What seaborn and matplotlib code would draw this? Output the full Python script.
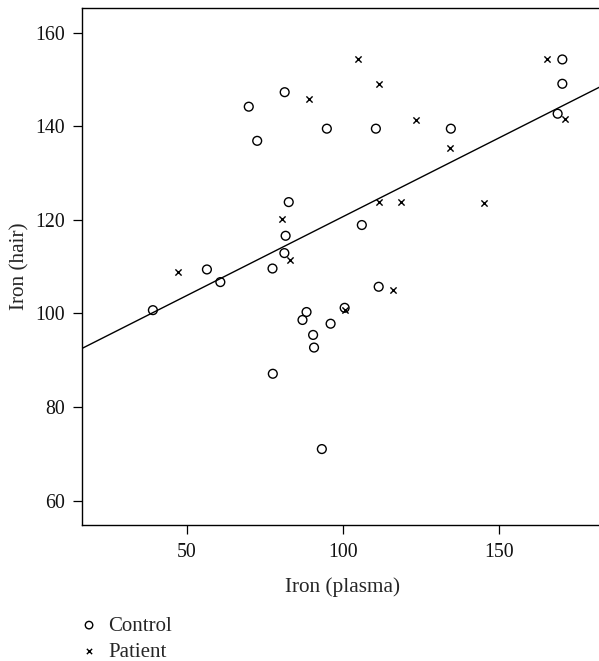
import numpy as np
import pandas as pd
import matplotlib
matplotlib.use("Agg")
import matplotlib.pyplot as plt
import seaborn as sns

# Iron measurements: plasma (x) against hair (y)
control_plasma = [39.2, 56.5, 60.8, 69.9, 72.6, 77.5, 77.6, 81.4, 82.7, 81.7,
                  81.3, 87.1, 88.4, 90.5, 90.8, 93.3, 94.9, 96.1, 100.6, 106.1,
                  110.6, 111.5, 134.6, 168.8, 170.3, 170.3]
control_hair = [100.7, 109.4, 106.7, 144.2, 136.9, 109.6, 87.1, 147.3, 123.8, 116.6,
                112.9, 98.6, 100.3, 95.4, 92.7, 71.0, 139.5, 97.8, 101.2, 118.9,
                139.5, 105.7, 139.5, 142.7, 149.1, 154.3]
patient_plasma = [47.2, 80.5, 83.2, 89.3, 100.6, 104.9, 111.5, 111.6, 116.2, 118.7,
                  123.6, 134.4, 145.3, 165.4, 171.2]
patient_hair = [108.9, 120.1, 111.4, 145.8, 100.7, 154.3, 149.0, 123.8, 105.1, 123.9,
                141.3, 135.4, 123.6, 154.3, 141.5]

x_ticks = [50, 100, 150]
y_ticks = [60, 80, 100, 120, 140, 160]

control = pd.DataFrame({"plasma": control_plasma, "hair": control_hair})
patient = pd.DataFrame({"plasma": patient_plasma, "hair": patient_hair})
both = pd.concat([control, patient], ignore_index=True)

sns.set_theme(style="ticks")
plt.rcParams["font.family"] = ["Liberation Serif", "DejaVu Serif"]

W, H = 599, 661
fig = plt.figure(figsize=(W / 100, H / 100), dpi=100)
ax = fig.add_axes([82.3 / W, 1 - 525.3 / H, (602 - 82.3) / W, (525.3 - 8) / H])

ax.set_xlim(16.6, 183.0)
ax.set_ylim(54.7, 165.3)

sns.scatterplot(data=control, x="plasma", y="hair", marker="o", s=40,
                facecolor="none", edgecolor="black", linewidth=1.0,
                label="Control", ax=ax, legend=False)
sns.scatterplot(data=patient, x="plasma", y="hair", marker="x", s=20,
                color="black", linewidth=1.0, label="Patient", ax=ax, legend=False)

# least-squares line over both groups, drawn across the full x range
sns.regplot(data=both, x="plasma", y="hair", scatter=False, ci=None,
            truncate=False, color="black", line_kws={"linewidth": 1.0}, ax=ax)

ax.set_xticks(x_ticks)
ax.set_yticks(y_ticks)
ax.tick_params(axis="both", direction="out", length=6.3, width=0.9,
               color="black", labelsize=14.3, labelcolor="#111111")
ax.tick_params(axis="x", pad=6.5)
ax.tick_params(axis="y", pad=6)
ax.set_xlabel("Iron (plasma)", fontsize=15.3, labelpad=11)
ax.set_ylabel("Iron (hair)", fontsize=15.3, labelpad=4.5)

for side in ["left", "bottom", "top", "right"]:
    ax.spines[side].set_color("black")
    ax.spines[side].set_linewidth(1.0)

handles, labels = ax.get_legend_handles_labels()
fig.legend(handles, labels, loc="upper left", bbox_to_anchor=(80.7 / W, 1 - 616 / H),
           frameon=False, fontsize=15, handlelength=0.8, handletextpad=0.51,
           labelspacing=0.32, borderaxespad=0, borderpad=0, markerscale=0.85)

fig.savefig("out.png", dpi=100)
